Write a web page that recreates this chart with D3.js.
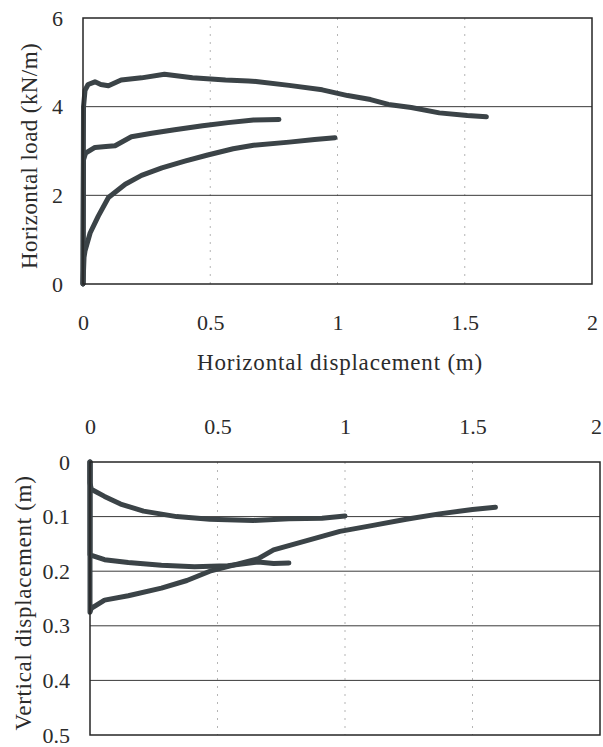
<!DOCTYPE html>
<html>
<head>
<meta charset="utf-8">
<script src="https://cdn.jsdelivr.net/npm/d3@7"></script>
<style>
  html, body { margin: 0; padding: 0; background: #ffffff; }
  svg { display: block; }
  text { font-family: "Liberation Serif", "Times New Roman", serif; fill: #2b2b2b; }
</style>
</head>
<body>
<svg id="chart" width="603" height="747"></svg>
<script>
// ---------- DATA ----------
// Top chart: horizontal load (kN/m) vs horizontal displacement (m)
const xTicks = [0, 0.5, 1, 1.5, 2];
const loadTicks = [0, 2, 4, 6];
const vertTicks = [0, 0.1, 0.2, 0.3, 0.4, 0.5];

const loadA = [[0,0],[0.002,4.0],[0.008,4.37],[0.02,4.5],[0.047,4.56],[0.07,4.5],[0.1,4.47],[0.15,4.6],[0.23,4.65],[0.32,4.73],[0.43,4.65],[0.56,4.6],[0.65,4.58],[0.68,4.57],[0.81,4.48],[0.94,4.38],[1.04,4.25],[1.13,4.16],[1.20,4.05],[1.29,3.98],[1.40,3.86],[1.51,3.80],[1.585,3.77]];
const loadB = [[0,0],[0.002,2.8],[0.01,2.95],[0.047,3.08],[0.09,3.1],[0.126,3.12],[0.19,3.32],[0.27,3.4],[0.36,3.48],[0.47,3.57],[0.57,3.64],[0.67,3.70],[0.77,3.71]];
const loadC = [[0,0],[0.004,0.6],[0.008,0.75],[0.028,1.15],[0.06,1.53],[0.1,1.95],[0.166,2.25],[0.23,2.45],[0.31,2.62],[0.40,2.77],[0.49,2.91],[0.59,3.05],[0.67,3.13],[0.81,3.2],[0.91,3.26],[0.99,3.3]];

// Bottom chart: vertical displacement (m) vs horizontal displacement (m)
const vertA = [[0,0],[0,0.275],[0.005,0.268],[0.057,0.253],[0.15,0.245],[0.28,0.231],[0.38,0.217],[0.47,0.2],[0.57,0.188],[0.66,0.177],[0.72,0.161],[0.85,0.144],[0.98,0.127],[1.11,0.116],[1.24,0.105],[1.37,0.095],[1.50,0.087],[1.59,0.083]];
const vertB = [[0,0],[0,0.170],[0.057,0.179],[0.15,0.184],[0.28,0.189],[0.41,0.192],[0.54,0.19],[0.66,0.183],[0.72,0.186],[0.78,0.185]];
const vertC = [[0,0],[0,0.038],[0.005,0.05],[0.057,0.063],[0.12,0.077],[0.21,0.09],[0.34,0.1],[0.47,0.105],[0.64,0.107],[0.78,0.104],[0.91,0.103],[1.0,0.099]];

const xTitle = "Horizontal displacement (m)";
const loadTitle = "Horizontal load (kN/m)";
const vertTitle = "Vertical displacement (m)";

// ---------- LAYOUT ----------
const svg = d3.select("#chart");
const lineColor = "#3b4347";
const fmt = d => d3.format("")(d);

function panel(cfg) {
  const x = d3.scaleLinear().domain([0, 2]).range([cfg.left, cfg.right]);
  const y = d3.scaleLinear().domain(cfg.yDomain).range(cfg.yRange);
  const g = svg.append("g");

  // vertical dashed gridlines
  g.append("g").selectAll("line").data([0.5, 1, 1.5]).join("line")
    .attr("x1", d => x(d)).attr("x2", d => x(d))
    .attr("y1", cfg.top).attr("y2", cfg.bottom)
    .attr("stroke", "#b5b5b5").attr("stroke-width", 1)
    .attr("stroke-dasharray", "2,6");

  // horizontal gridlines
  g.append("g").selectAll("line").data(cfg.grid).join("line")
    .attr("x1", cfg.left).attr("x2", cfg.right)
    .attr("y1", d => y(d)).attr("y2", d => y(d))
    .attr("stroke", "#3a3a3a").attr("stroke-width", 1);

  // series
  const line = d3.line().x(d => x(d[0])).y(d => y(d[1]));
  g.append("g").selectAll("path").data(cfg.series).join("path")
    .attr("d", line)
    .attr("fill", "none")
    .attr("stroke", lineColor)
    .attr("stroke-width", 5)
    .attr("stroke-linejoin", "round")
    .attr("stroke-linecap", "round");

  // frame
  g.append("rect")
    .attr("x", cfg.left).attr("y", cfg.top)
    .attr("width", cfg.right - cfg.left).attr("height", cfg.bottom - cfg.top)
    .attr("fill", "none").attr("stroke", "#262626").attr("stroke-width", 1.5);

  // x axis
  const xAxis = (cfg.xOnTop ? d3.axisTop(x) : d3.axisBottom(x))
    .tickValues(xTicks).tickSize(0).tickPadding(cfg.xPad).tickFormat(fmt);
  const ax = g.append("g")
    .attr("transform", `translate(0,${cfg.xOnTop ? cfg.top : cfg.bottom})`)
    .call(xAxis);
  ax.select(".domain").remove();
  ax.selectAll("text").style("font-size", "22px").attr("fill", "#2b2b2b")
    .attr("dx", d => (d === 2 && cfg.xOnTop) ? -4 : 0);

  // y axis
  const yAxis = d3.axisLeft(y).tickValues(cfg.yTicks).tickSize(0).tickPadding(20).tickFormat(fmt);
  const ay = g.append("g").attr("transform", `translate(${cfg.left},0)`).call(yAxis);
  ay.select(".domain").remove();
  ay.selectAll("text").style("font-size", "22px").attr("fill", "#2b2b2b");

  // y title
  g.append("text")
    .attr("transform", `translate(${cfg.yTitleX},${cfg.yTitleY}) rotate(-90)`)
    .attr("text-anchor", "middle")
    .attr("dy", "0.35em")
    .style("font-size", "23px")
    .style("letter-spacing", cfg.yTitleSpacing)
    .text(cfg.yTitle);
  return { x, y, g };
}

const loadPanel = panel({
  left: 83, right: 592, top: 18, bottom: 284,
  yDomain: [0, 6], yRange: [284, 18],
  grid: [2, 4], yTicks: loadTicks,
  series: [loadA, loadB, loadC],
  xOnTop: false, xPad: 30,
  yTitle: loadTitle, yTitleX: 29, yTitleY: 156, yTitleSpacing: "0.4px"
});

svg.append("text")
  .attr("x", 340).attr("y", 362)
  .attr("text-anchor", "middle")
  .attr("dy", "0.35em")
  .style("font-size", "23px")
  .style("letter-spacing", "0.8px")
  .text(xTitle);

const vertPanel = panel({
  left: 90, right: 600, top: 462, bottom: 735,
  yDomain: [0, 0.5], yRange: [462, 735],
  grid: [0.1, 0.2, 0.3, 0.4], yTicks: vertTicks,
  series: [vertA, vertB, vertC],
  xOnTop: true, xPad: 28,
  yTitle: vertTitle, yTitleX: 23, yTitleY: 603, yTitleSpacing: "0.7px"
});
</script>
</body>
</html>
